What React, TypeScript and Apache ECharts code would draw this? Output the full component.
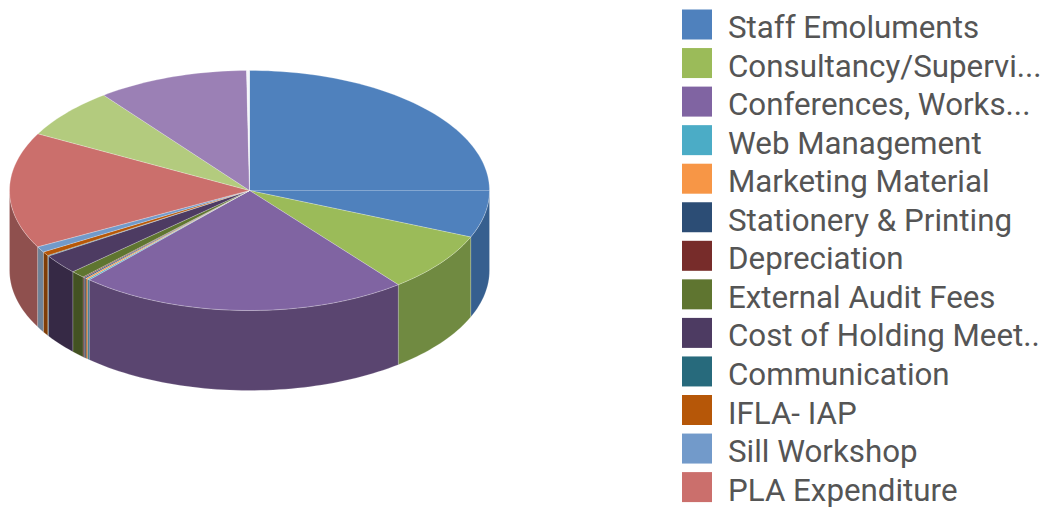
import React, { useEffect, useRef } from "react";
import * as echarts from "echarts";

const categories = [
  "Staff Emoluments",
  "Consultancy/Supervi...",
  "Conferences, Works...",
  "Web Management",
  "Marketing Material",
  "Stationery & Printing",
  "Depreciation",
  "External Audit Fees",
  "Cost of Holding Meet..",
  "Communication",
  "IFLA- IAP",
  "Sill Workshop",
  "PLA Expenditure",
  "Item 14",
  "Item 15",
  "Item 16",
];
const shares = [112.8, 28.9, 80.2, 0.5, 0.6, 0.5, 0.4, 3.5, 9.5, 0.3, 2.0, 2.8, 56.2, 24.4, 36.7, 0.7];
const topColors = [
  "#4f81bd", "#9bbb59", "#8064a2", "#4bacc6", "#f79646", "#2c4d75", "#772c2a", "#5f7530",
  "#4d3b62", "#276a7c", "#b65708", "#729aca", "#cb6f6c", "#b3cb7e", "#9b80b5", "#f4f6fa",
];
const wallColors = [
  "#365f8f", "#708a41", "#5a4570", "#35798b", "#ad6931", "#1f3652", "#531f1d", "#435222",
  "#362945", "#1b4a57", "#7f3d06", "#6f8296", "#8f504e", "#7d8e58", "#6d5a7f", "#c0c4cc",
];
const legendNames = categories.slice(0, 13);

const CX = 249.5;
const CY = 190.5;
const RX = 240;
const RY = 120;
const DEPTH = 80;

const total = shares.reduce((a, b) => a + b, 0);

function rim(deg: number, dy = 0): number[] {
  const r = (deg * Math.PI) / 180;
  return [CX + RX * Math.sin(r), CY - RY * Math.cos(r) + dy];
}

function arc(a: number, b: number, dy = 0): number[][] {
  const n = Math.max(2, Math.ceil((b - a) / 1.5) + 1);
  const pts: number[][] = [];
  for (let i = 0; i < n; i++) pts.push(rim(a + ((b - a) * i) / (n - 1), dy));
  return pts;
}

function renderSlice(index: number) {
  return (_params: any, api: any) => {
    const start = api.value(0);
    const end = api.value(1);
    const children: any[] = [];
    const ws = Math.max(start, 90);
    const we = Math.min(end, 270);
    if (we > ws) {
      const pts = [...arc(ws, we), ...arc(ws, we, DEPTH).reverse()];
      children.push({
        type: "polygon",
        shape: { points: pts },
        style: { fill: wallColors[index], stroke: "rgba(255,255,255,0.22)", lineWidth: 0.8 },
      });
    }
    children.push({
      type: "polygon",
      shape: { points: [[CX, CY], ...arc(start, end)] },
      style: { fill: topColors[index], stroke: "rgba(255,255,255,0.3)", lineWidth: 0.8 },
    });
    if (start < 90 && end > 90) {
      const p = rim(90);
      children.push({
        type: "line",
        shape: { x1: CX, y1: CY, x2: p[0], y2: p[1] },
        style: { stroke: "rgba(255,255,255,0.3)", lineWidth: 1 },
      });
    }
    return { type: "group", children };
  };
}

export default function App() {
  const ref = useRef<HTMLDivElement>(null);
  useEffect(() => {
    document.body.style.margin = "0";
    const chart = echarts.init(ref.current!, null, { renderer: "svg" });
    let acc = 0;
    const series = categories.map((name, i) => {
      const start = (acc / total) * 360;
      acc += shares[i];
      const end = (acc / total) * 360;
      return {
        type: "custom",
        name,
        coordinateSystem: "none",
        silent: true,
        itemStyle: { color: topColors[i] },
        data: [[start, end]],
        renderItem: renderSlice(i),
      };
    });
    chart.setOption({
      animation: false,
      backgroundColor: "#ffffff",
      legend: {
        data: legendNames,
        orient: "vertical",
        left: 682,
        top: 6,
        padding: 0,
        itemWidth: 30,
        itemHeight: 30,
        itemGap: 1.55,
        selectedMode: false,
        icon: "rect",
        itemStyle: { borderWidth: 0 },
        formatter: (name: string) => `{a|${name}}`,
        textStyle: {
          rich: {
            a: {
              fontFamily: "Roboto",
              fontSize: 31.3,
              lineHeight: 26,
              color: "#555555",
              padding: [6, 0, 0, 11],
            },
          },
        },
      },
      series,
    });
    return () => chart.dispose();
  }, []);
  return <div ref={ref} style={{ position: "absolute", left: 0, top: 0, width: 1052, height: 510 }} />;
}
